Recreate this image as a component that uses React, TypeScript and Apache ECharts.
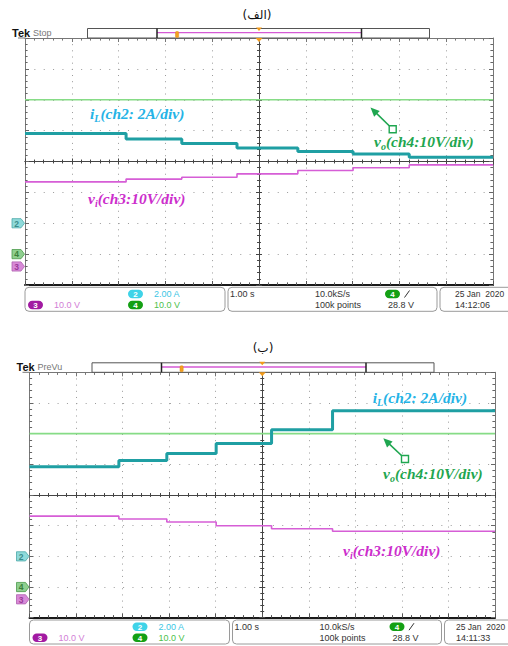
import React, { useEffect, useRef } from "react";
import * as echarts from "echarts";

const W = 508;
const H = 646;

// ---- Data (time in s relative to trigger, 1.00 s/div) ----
// Panel (الف)
const aStepTimes = [-5, -2.84, -1.65, -0.47, 0.83, 2.01, 3.21, 5];
const aIL = [5.81, 5.46, 5.16, 4.87, 4.64, 4.49, 4.27, 4.27]; // A
const aVi = [27.4, 28.3, 28.9, 30.0, 31.1, 32.0, 32.9, 32.9]; // V
const aVoTimes = [-5, 5];
const aVo = [50, 50]; // V

// Panel (ب)
const bStepTimes = [-5, -3.08, -2.05, -0.99, 0.2, 1.51, 5];
const bIL = [5.84, 6.25, 6.71, 7.36, 8.25, 9.5, 9.5];
const bVi = [27.1, 26.2, 25.2, 24.0, 23.0, 22.2, 22.2];
const bVoTimes = [-5, 5];
const bVo = [50, 50];

// channel settings: units per division and ground offset (divisions from centre)
const ch2Scale = 2;
const ch2Offset = -2;
const ch3Scale = 10;
const ch3Offset = -3.4;
const ch4Scale = 10;
const ch4Offset = -3;

const panelTitles = ["(الف)", "(ب)"];
const panelModes = ["Stop", "PreVu"];
const panelClock = ["14:12:06", "14:11:33"];
const statusTexts = {
  ch2: "2.00 A",
  ch3: "10.0 V",
  ch4: "10.0 V",
  hscale: "1.00 s",
  rate: "10.0kS/s",
  points: "100k points",
  trig: "28.8 V",
  date: "25 Jan  2020",
};

const panelGeom = [
  { left: 25, top: 38, width: 468, height: 247 },
  { left: 29.5, top: 372.3, width: 465.5, height: 245.4 },
];

const annot = [
  { title: [257, 15], iL: [90, 113], vo: [374, 141], sq: [392.7, 129.3], tip: [370.5, 107.5], vi: [88, 198] },
  { title: [263, 348], iL: [372.7, 397.3], vo: [383, 473.3], sq: [405, 459], tip: [383.3, 438.3], vi: [343, 550] },
];

const C_CYAN_TRACE = "#1f9fa3";
const C_MAG_TRACE = "#d65ed6";
const C_GREEN_TRACE = "#86dc86";
const C_CYAN_TXT = "#25b3e6";
const C_GREEN_TXT = "#1fa650";
const C_MAG_TXT = "#cc2ecc";

function pair(t: number[], v: number[]) {
  return t.map((x, i) => [x, v[i]]);
}

function buildAxes(g: number) {
  const xBase = 4 * g;
  const yBase = 7 * g;
  const xc = { gridIndex: g, type: "value", min: -5, max: 5, interval: 1, axisLabel: { show: false }, silent: true };
  const yc = { gridIndex: g, type: "value", min: -4, max: 4, interval: 1, axisLabel: { show: false }, silent: true };
  const tick = (inside: boolean, len: number, color: string) => ({
    axisTick: { show: true, inside, length: len, lineStyle: { color, width: 1 } },
    minorTick: { show: true, splitNumber: 5, length: len * 0.65, lineStyle: { color, width: 1 } },
  });
  const xAxes = [
    {
      ...xc,
      position: "bottom",
      axisLine: { show: true, onZero: false, lineStyle: { color: "#1a1a1a", width: 2 } },
      ...tick(true, 4, "#555"),
      splitLine: { show: true, lineStyle: { color: "#9a9a9a", width: 1, type: [1, 5.17] } },
    },
    {
      ...xc,
      position: "top",
      axisLine: { show: true, onZero: false, lineStyle: { color: "#777", width: 1 } },
      ...tick(true, 4, "#777"),
      splitLine: { show: false },
    },
    {
      ...xc,
      position: "bottom",
      axisLine: { show: true, onZero: true, onZeroAxisIndex: yBase, lineStyle: { color: "#444", width: 1 } },
      ...tick(true, 3, "#444"),
      splitLine: { show: false },
    },
    {
      ...xc,
      position: "bottom",
      axisLine: { show: true, onZero: true, onZeroAxisIndex: yBase, lineStyle: { color: "#444", width: 1 } },
      ...tick(false, 3, "#444"),
      splitLine: { show: false },
    },
  ];
  const chAxis = (scale: number, off: number) => ({
    gridIndex: g,
    type: "value",
    show: false,
    min: (-4 - off) * scale,
    max: (4 - off) * scale,
  });
  const yAxes = [
    {
      ...yc,
      position: "left",
      axisLine: { show: true, onZero: false, lineStyle: { color: "#777", width: 1 } },
      ...tick(true, 4, "#666"),
      splitLine: { show: true, lineStyle: { color: "#9a9a9a", width: 1, type: [1, 8.36] } },
    },
    {
      ...yc,
      position: "right",
      axisLine: { show: true, onZero: false, lineStyle: { color: "#777", width: 1 } },
      ...tick(true, 4, "#666"),
      splitLine: { show: false },
    },
    {
      ...yc,
      position: "left",
      axisLine: { show: true, onZero: true, onZeroAxisIndex: xBase, lineStyle: { color: "#444", width: 1 } },
      ...tick(true, 3, "#444"),
      splitLine: { show: false },
    },
    {
      ...yc,
      position: "left",
      axisLine: { show: true, onZero: true, onZeroAxisIndex: xBase, lineStyle: { color: "#444", width: 1 } },
      ...tick(false, 3, "#444"),
      splitLine: { show: false },
    },
    chAxis(ch2Scale, ch2Offset),
    chAxis(ch3Scale, ch3Offset),
    chAxis(ch4Scale, ch4Offset),
  ];
  return { xAxes, yAxes };
}

function buildSeries(g: number, stepT: number[], iL: number[], vi: number[], voT: number[], vo: number[]) {
  const xBase = 4 * g;
  const yBase = 7 * g;
  const base = { type: "line", xAxisIndex: xBase, symbol: "none", showSymbol: false, silent: true, clip: false };
  return [
    { ...base, yAxisIndex: yBase + 6, data: pair(voT, vo), lineStyle: { color: C_GREEN_TRACE, width: 1.6 }, itemStyle: { color: C_GREEN_TRACE }, z: 3 },
    { ...base, yAxisIndex: yBase + 5, step: "end", data: pair(stepT, vi), lineStyle: { color: C_MAG_TRACE, width: 1.6 }, itemStyle: { color: C_MAG_TRACE }, z: 4 },
    { ...base, yAxisIndex: yBase + 4, step: "end", data: pair(stepT, iL), lineStyle: { color: C_CYAN_TRACE, width: 3 }, itemStyle: { color: C_CYAN_TRACE }, z: 5 },
  ];
}

function txt(x: number, y: number, text: string, font: string, fill: string, align = "left") {
  return {
    type: "text",
    x,
    y,
    z: 20,
    silent: true,
    style: { text, font, fill, align, verticalAlign: "middle", textAlign: align, textVerticalAlign: "middle" },
  };
}

function badge(x: number, y: number, color: string, label: string) {
  return [
    { type: "rect", z: 20, silent: true, shape: { x, y: y - 4.2, width: 15, height: 8.4, r: 4.2 }, style: { fill: color } },
    txt(x + 7.5, y + 0.3, label, 'bold 8px "Liberation Sans"', "#fff", "center"),
  ];
}

function richLabel(x: number, y: number, main: string, sub: string, rest: string, color: string) {
  const fam = '"Liberation Serif", "Times New Roman", serif';
  return {
    type: "text",
    x,
    y,
    z: 20,
    silent: true,
    style: {
      text: `{m|${main}}{s|${sub}}{m|${rest}}`,
      fill: color,
      align: "left",
      verticalAlign: "middle",
      textAlign: "left",
      textVerticalAlign: "middle",
      rich: {
        m: { fontSize: 15.5, fontFamily: fam, fontWeight: "bold", fontStyle: "italic", fill: color, color, lineHeight: 20 },
        s: { fontSize: 10, fontFamily: fam, fontWeight: "bold", fontStyle: "italic", fill: color, color, lineHeight: 10, verticalAlign: "bottom" },
      },
    },
  };
}

function panelGraphics(i: number) {
  const p = panelGeom[i];
  const a = annot[i];
  const L = p.left;
  const T = p.top;
  const B = p.top + p.height;
  const cx = p.left + p.width / 2;
  const divH = p.height / 8;
  const els: any[] = [];
  const sans = '"Liberation Sans", Arial, sans-serif';

  // title
  els.push(txt(a.title[0], a.title[1], panelTitles[i], '12px "DejaVu Sans"', "#111", "center"));

  // top bar
  els.push(txt(L - 13, T - 5, "Tek", `bold 11px ${sans}`, "#111"));
  els.push(txt(L + 8, T - 5, panelModes[i], `9px ${sans}`, "#777"));
  els.push({ type: "line", z: 15, silent: true, shape: { x1: L - 7, y1: T, x2: L, y2: T }, style: { stroke: "#777", lineWidth: 1 } });
  els.push({ type: "rect", z: 15, silent: true, shape: { x: L + 62.5, y: T - 9.5, width: 342, height: 9.5 }, style: { fill: "#fff", stroke: "#555", lineWidth: 1 } });
  els.push({ type: "line", z: 16, silent: true, shape: { x1: L + 132, y1: T - 5.3, x2: L + 336.5, y2: T - 5.3 }, style: { stroke: "#d55ad5", lineWidth: 1.3 } });
  els.push({ type: "line", z: 16, silent: true, shape: { x1: L + 132, y1: T - 9.5, x2: L + 132, y2: T }, style: { stroke: "#222", lineWidth: 1.5 } });
  els.push({ type: "line", z: 16, silent: true, shape: { x1: L + 336.5, y1: T - 9.5, x2: L + 336.5, y2: T }, style: { stroke: "#222", lineWidth: 1.5 } });
  els.push({ type: "rect", z: 17, silent: true, shape: { x: L + 150.5, y: T - 6.5, width: 3.2, height: 6, r: 1 }, style: { fill: "#f4a020", stroke: "#e08a10", lineWidth: 0.5 } });
  els.push({ type: "polygon", z: 17, silent: true, shape: { points: [[cx - 3, T - 10.5], [cx + 3, T - 10.5], [cx, T - 7]] }, style: { fill: "#f29a1a" } });
  els.push({ type: "polygon", z: 17, silent: true, shape: { points: [[cx - 3.5, T], [cx + 3.5, T], [cx, T + 4]] }, style: { fill: "#f29a1a" } });

  // channel ground markers
  const markers = [
    { off: ch2Offset, label: "2", fill: "#8fdada", stroke: "#4aa8a8", tc: "#3a8c8c" },
    { off: ch4Offset, label: "4", fill: "#8fcf8f", stroke: "#4a9a4a", tc: "#3a803a" },
    { off: ch3Offset, label: "3", fill: "#d88ad8", stroke: "#b060b0", tc: "#9a3a9a" },
  ];
  markers.forEach((m) => {
    const y = T + (4 - m.off) * divH;
    els.push({
      type: "polygon",
      z: 18,
      silent: true,
      shape: { points: [[L - 13, y - 4.6], [L - 4, y - 4.6], [L - 0.5, y], [L - 4, y + 4.6], [L - 13, y + 4.6]] },
      style: { fill: m.fill, stroke: m.stroke, lineWidth: 0.8 },
    });
    els.push(txt(L - 8.3, y + 0.3, m.label, `bold 8.5px ${sans}`, m.tc, "center"));
  });

  // annotations
  els.push(richLabel(a.iL[0], a.iL[1], "i", "L", "(ch2: 2A/div)", C_CYAN_TXT));
  els.push(richLabel(a.vo[0], a.vo[1], "v", "o", "(ch4:10V/div)", C_GREEN_TXT));
  els.push(richLabel(a.vi[0], a.vi[1], "v", "i", "(ch3:10V/div)", C_MAG_TXT));
  // arrow
  const [sx, sy] = a.sq;
  const [tx, ty] = a.tip;
  const dx = tx - sx;
  const dy = ty - sy;
  const len = Math.sqrt(dx * dx + dy * dy);
  const ux = dx / len;
  const uy = dy / len;
  const bx = tx - ux * 9;
  const by = ty - uy * 9;
  const px = -uy;
  const py = ux;
  els.push({ type: "line", z: 19, silent: true, shape: { x1: sx - 3.5, y1: sy - 3.5, x2: bx + ux * 2, y2: by + uy * 2 }, style: { stroke: C_GREEN_TXT, lineWidth: 1.6 } });
  els.push({ type: "polygon", z: 19, silent: true, shape: { points: [[tx, ty], [bx + px * 4, by + py * 4], [bx - px * 4, by - py * 4]] }, style: { fill: C_GREEN_TXT } });
  els.push({ type: "rect", z: 19, silent: true, shape: { x: sx - 3.5, y: sy - 3.5, width: 7, height: 7 }, style: { fill: "#fff", stroke: C_GREEN_TXT, lineWidth: 1.4 } });

  // status bar
  const r1 = B + 9;
  const r2 = B + 20;
  const boxStyle = { fill: "none", stroke: "#9a9a9a", lineWidth: 1 };
  els.push({ type: "rect", z: 15, silent: true, shape: { x: L, y: B + 2.3, width: 200, height: 24, r: 4 }, style: boxStyle });
  els.push({ type: "rect", z: 15, silent: true, shape: { x: L + 203, y: B + 2.3, width: 209, height: 24, r: 4 }, style: boxStyle });
  els.push({ type: "rect", z: 15, silent: true, shape: { x: L + 415, y: B + 2.3, width: 95, height: 24, r: 4 }, style: boxStyle });
  const small = `9px ${sans}`;
  els.push(...badge(L + 103, r1, "#3fd3e8", "2"));
  els.push(txt(L + 129, r1, statusTexts.ch2, small, "#3cc6e4"));
  els.push(...badge(L + 3, r2, "#a21aa2", "3"));
  els.push(txt(L + 29, r2, statusTexts.ch3, small, "#d27ed6"));
  els.push(...badge(L + 103, r2, "#14a014", "4"));
  els.push(txt(L + 129, r2, statusTexts.ch4, small, "#4cbf4c"));
  els.push(txt(L + 205, r1, statusTexts.hscale, small, "#333"));
  els.push(txt(L + 290, r1, statusTexts.rate, small, "#333"));
  els.push(txt(L + 290, r2, statusTexts.points, small, "#333"));
  els.push(...badge(L + 360, r1, "#14a014", "4"));
  els.push({ type: "line", z: 20, silent: true, shape: { x1: L + 379.5, y1: r1 + 3.5, x2: L + 384.5, y2: r1 - 3.5 }, style: { stroke: "#333", lineWidth: 1 } });
  els.push(txt(L + 363, r2, statusTexts.trig, small, "#333"));
  els.push(txt(Math.min(L + 430, 456), r1, statusTexts.date, `8.5px ${sans}`, "#333"));
  els.push(txt(Math.min(L + 430, 456), r2, panelClock[i], small, "#333"));

  return els;
}

function buildOption() {
  const a0 = buildAxes(0);
  const a1 = buildAxes(1);
  return {
    animation: false,
    backgroundColor: "#ffffff",
    grid: panelGeom.map((p) => ({ left: p.left, top: p.top, width: p.width, height: p.height, show: false, containLabel: false })),
    xAxis: [...a0.xAxes, ...a1.xAxes],
    yAxis: [...a0.yAxes, ...a1.yAxes],
    series: [
      ...buildSeries(0, aStepTimes, aIL, aVi, aVoTimes, aVo),
      ...buildSeries(1, bStepTimes, bIL, bVi, bVoTimes, bVo),
    ],
    graphic: { elements: [...panelGraphics(0), ...panelGraphics(1)] },
  };
}

export default function App() {
  const ref = useRef<HTMLDivElement>(null);
  useEffect(() => {
    const chart = echarts.init(ref.current as HTMLDivElement, undefined, { renderer: "svg", width: W, height: H });
    chart.setOption(buildOption() as any);
    return () => chart.dispose();
  }, []);
  return <div ref={ref} style={{ position: "absolute", left: 0, top: 0, width: W, height: H, background: "#fff" }} />;
}
